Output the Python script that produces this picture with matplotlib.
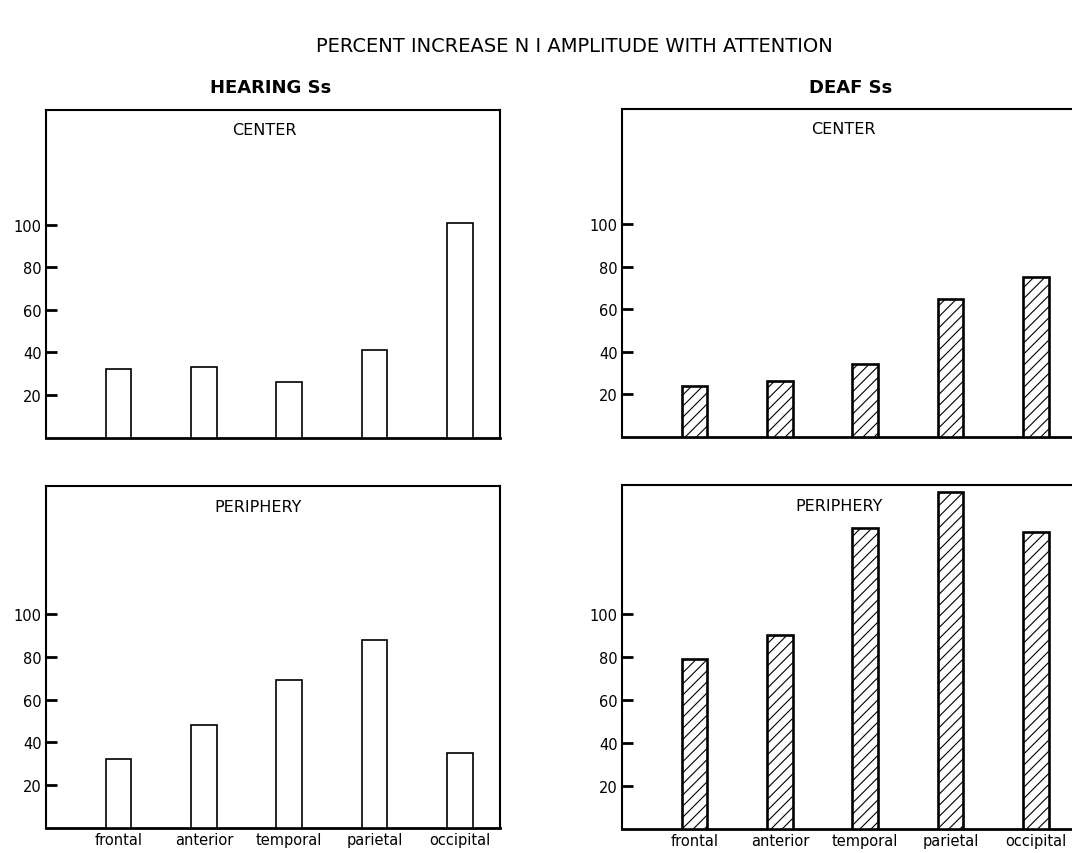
import matplotlib
matplotlib.use("Agg")
import matplotlib.pyplot as plt
import numpy as np

# Electrode regions along the x axis
regions = ["frontal", "anterior", "temporal", "parietal", "occipital"]

# Percent increase of N1 amplitude with attention
hearing_center = [32, 33, 26, 41, 101]
hearing_periphery = [32, 48, 69, 88, 35]
deaf_center = [24, 26, 34, 65, 75]
deaf_periphery = [79, 90, 140, 157, 138]

y_ticks = [20, 40, 60, 80, 100]

title = "PERCENT INCREASE N I AMPLITUDE WITH ATTENTION"
group_titles = ["HEARING Ss", "DEAF Ss"]
condition_titles = ["CENTER", "PERIPHERY"]

plt.rcParams["font.family"] = ["DejaVu Sans"]
plt.rcParams["hatch.linewidth"] = 0.8
plt.rcParams["hatch.color"] = "black"

W, H = 1072, 854
fig = plt.figure(figsize=(W / 100, H / 100), dpi=100)
fig.patch.set_facecolor("white")


def px_axes(left, top, right, bottom):
    return fig.add_axes([left / W, 1 - bottom / H, (right - left) / W, (bottom - top) / H])


def draw_panel(ax, values, ymax, hatched, show_xlabels, label, label_x):
    x = np.arange(len(values))
    if hatched:
        ax.bar(x, values, width=0.30, facecolor="white", edgecolor="black",
               linewidth=1.9, hatch="///", zorder=3)
    else:
        ax.bar(x, values, width=0.30, facecolor="white", edgecolor="black",
               linewidth=1.2, zorder=3)
    ax.set_xlim(-0.85, 4.47)
    ax.set_ylim(0, ymax)
    ax.set_yticks(y_ticks)
    ax.set_yticklabels([str(t) for t in y_ticks], fontsize=10.5)
    ax.tick_params(axis="y", direction="in", length=8, width=2.0, pad=3)
    ax.set_xticks(x)
    if show_xlabels:
        ax.set_xticklabels(regions, fontsize=10.5)
    else:
        ax.set_xticklabels([])
    ax.tick_params(axis="x", length=0, pad=3)
    for side in ["left", "right", "top"]:
        ax.spines[side].set_linewidth(1.5)
    ax.spines["bottom"].set_linewidth(2.0)
    ax.text(label_x, 0.94, label, transform=ax.transAxes, ha="center",
            va="center", fontsize=11.5)


ax_tl = px_axes(46, 111, 500, 438.5)
draw_panel(ax_tl, hearing_center, 154.1, False, False, condition_titles[0], 0.48)

ax_bl = px_axes(46, 486.7, 500, 828.7)
draw_panel(ax_bl, hearing_periphery, 160.3, False, True, condition_titles[1], 0.468)

ax_tr = px_axes(622, 110, 1076, 437.7)
draw_panel(ax_tr, deaf_center, 154.2, True, False, condition_titles[0], 0.487)

ax_br = px_axes(622, 486, 1076, 829.5)
draw_panel(ax_br, deaf_periphery, 160.1, True, True, condition_titles[1], 0.478)

fig.text(574 / W, 1 - 47 / H, title, ha="center", va="center", fontsize=14)
fig.text(271 / W, 1 - 88 / H, group_titles[0], ha="center", va="center",
         fontsize=13, fontweight="bold")
fig.text(851 / W, 1 - 88 / H, group_titles[1], ha="center", va="center",
         fontsize=13, fontweight="bold")

fig.savefig("out.png", dpi=100, facecolor="white")
